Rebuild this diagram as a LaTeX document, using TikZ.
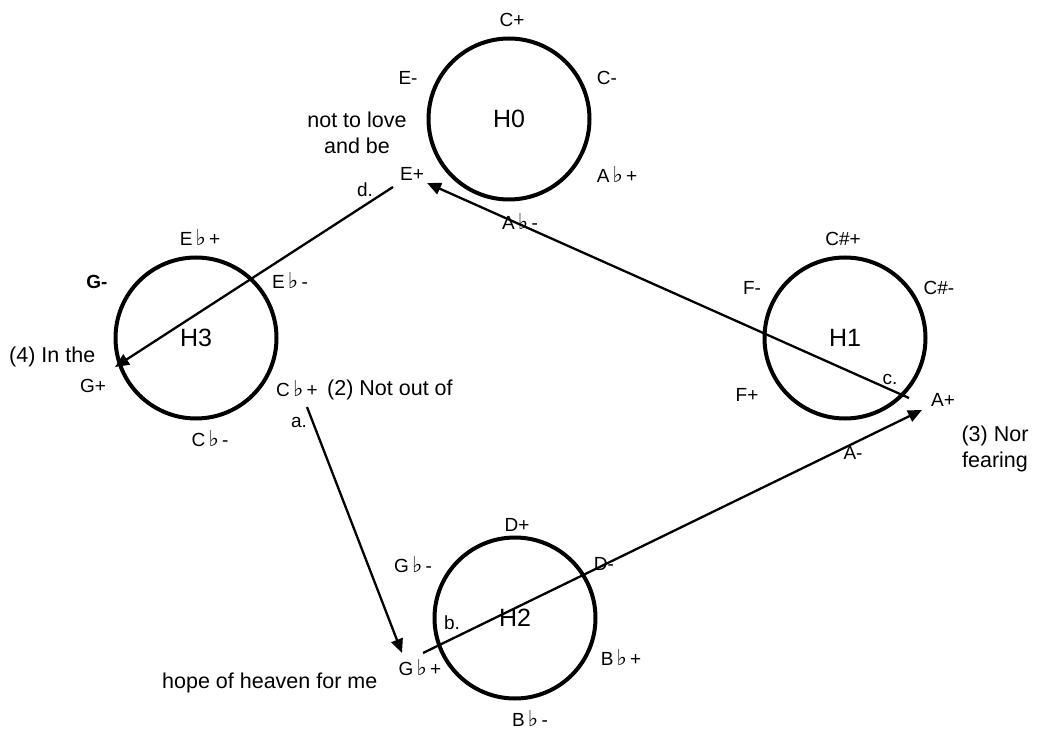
\documentclass[tikz,border=0pt]{standalone}
\usepackage{fontspec}
\setmainfont{Liberation Sans}
\newfontfamily\symfont{DejaVu Sans}
\usetikzlibrary{arrows.meta}
\newcommand{\fl}{\,{\symfont\fontsize{22}{22}\selectfont ♭}\,}
\begin{document}
\begin{tikzpicture}[x=1pt,y=-1pt,
  ring/.style={circle, draw, line width=4pt, minimum size=161pt, inner sep=0pt, font=\fontsize{25}{28}\selectfont},
  lbl/.style={font=\fontsize{19}{21}\selectfont, inner sep=1pt},
  txt/.style={font=\fontsize{21.5}{26}\selectfont, inner sep=1pt, align=center},
  link/.style={line width=2.3pt},
  tipped/.style={-{Triangle[length=14pt,width=12pt]}}]
\useasboundingbox (0,0) rectangle (1037,730);
% circles
\node[ring] (H0) at (509,119) {H0};
\node[ring] (H3) at (196,338) {H3};
\node[ring] (H1) at (845,338) {H1};
\node[ring] (H2) at (515,618) {H2};
% H0 labels
\node[lbl] (h0a) at (512,20) {C+};
\node[lbl] (h0b) at (408,78) {E-};
\node[lbl] (h0c) at (607,78) {C-};
\node[lbl] (h0d) at (412,174) {E+};
\node[lbl] (h0e) at (617,174) {A\fl+};
\node[lbl] (h0f) at (520,221) {A\fl-};
\node[txt] (t0) at (357,133) {not to love\\and be};
\node[lbl] (dl) at (365,190) {d.};
% H3 labels
\node[lbl] (h3a) at (200,237) {E\fl+};
\node[lbl,font=\fontsize{19}{21}\selectfont\bfseries] (h3b) at (97,282) {G-};
\node[lbl] (h3c) at (290,280) {E\fl-};
\node[lbl] (h3d) at (93,386) {G+};
\node[lbl] (h3e) at (297,389) {C\fl+};
\node[lbl] (h3f) at (210,439) {C\fl-};
\node[txt,anchor=west] (t4) at (8,357) {(4) In the};
\node[txt,anchor=west] (t2) at (326,390) {(2) Not out of};
\node[lbl] (al) at (299,422) {a.};
% H1 labels
\node[lbl] (h1a) at (843,239) {C\#+};
\node[lbl] (h1b) at (752,288) {F-};
\node[lbl] (h1c) at (939,288) {C\#-};
\node[lbl] (h1d) at (747,395) {F+};
\node[lbl] (h1e) at (943,400) {A+};
\node[lbl] (h1f) at (853,453) {A-};
\node[lbl] (cl) at (890,379) {c.};
\node[txt] (t3) at (995,449) {(3) Nor\\fearing};
% H2 labels
\node[lbl] (h2a) at (517,525) {D+};
\node[lbl] (h2b) at (413,565) {G\fl-};
\node[lbl] (h2c) at (604,564) {D-};
\node[lbl] (h2d) at (621,657) {B\fl+};
\node[lbl] (h2e) at (420,668) {G\fl+};
\node[lbl] (h2f) at (530,718) {B\fl-};
\node[lbl] (bl) at (452,623) {b.};
\node[txt,anchor=west] (t1) at (161,683) {hope of heaven for me};
% connector ends
\coordinate (cS) at (909,398); \coordinate (cE) at (427,183);
\coordinate (dS) at (393,187); \coordinate (dE) at (115,367);
\coordinate (aS) at (307,407); \coordinate (aE) at (402,653);
\coordinate (bS) at (423,653); \coordinate (bE) at (922,410);
\draw[link,tipped] (cS) -- (cE);
\draw[link,tipped] (dS) -- (dE);
\draw[link,tipped] (aS) -- (aE);
\draw[link,tipped] (bS) -- (bE);
\end{tikzpicture}
\end{document}
